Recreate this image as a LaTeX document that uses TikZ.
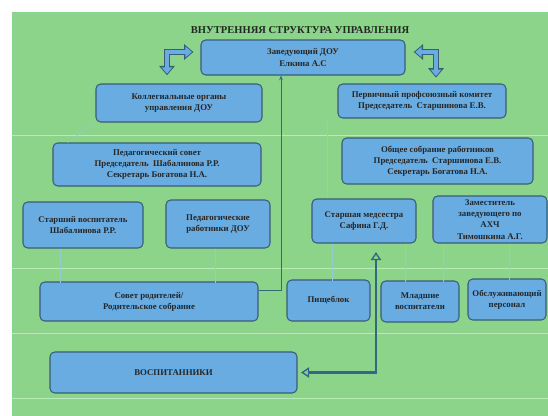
\documentclass[tikz,border=0pt]{standalone}
\usepackage{fontspec}
\setmainfont{Liberation Serif}
\usetikzlibrary{positioning, calc, arrows.meta}
\definecolor{slidegreen}{RGB}{140,212,138}
\definecolor{boxblue}{RGB}{104,172,226}
\definecolor{boxedge}{RGB}{58,92,118}
\definecolor{linkteal}{RGB}{52,104,128}
\definecolor{faintcyan}{RGB}{150,200,215}

\begin{document}
\begin{tikzpicture}[x=0.03cm, y=-0.03cm,
    unit/.style={rectangle, rounded corners=4pt, draw=boxedge, line width=0.9pt, fill=boxblue, align=center, inner sep=1pt, text=black!85, font=\fontsize{7.5}{9.5}\selectfont\bfseries},
    bigarrow/.style={draw=boxedge, line width=5pt, {Triangle[width=13pt,length=8pt]}-{Triangle[width=13pt,length=8pt]},
        postaction={draw=boxblue, line width=3pt, {Triangle[width=9pt,length=5.5pt]}-{Triangle[width=9pt,length=5.5pt]}, shorten <=1.3pt, shorten >=1.3pt}},
    pupilarrow/.style={draw=linkteal, line width=1.8pt, {Triangle[open,width=9pt,length=7pt,line width=1.2pt]}-{Triangle[open,width=9pt,length=7pt,line width=1.2pt]}},
    mainlink/.style={draw=linkteal, line width=0.8pt, -{Stealth[length=4pt]}},
    faint/.style={draw=faintcyan, line width=0.5pt},
    gridline/.style={draw=white, opacity=0.45, line width=0.6pt}
]
    \useasboundingbox (0,0) rectangle (548,416);
    \fill[white] (0,0) rectangle (548,416);
    \fill[slidegreen] (12,12) rectangle (548,416);
    \foreach \gy in {135,268,333,398}
        \draw[gridline] (12,\gy) -- (548,\gy);

    \node[font=\fontsize{9}{11}\selectfont\bfseries, text=black!85] (title) at (300,30) {ВНУТРЕННЯЯ СТРУКТУРА УПРАВЛЕНИЯ};

    \node[unit, minimum width=6.12cm, minimum height=1.05cm] (head) at (303,57.5) {Заведующий ДОУ\\Елкина А.С};
    \node[unit, minimum width=4.98cm, minimum height=1.14cm] (koll) at (179,103) {Коллегиальные органы\\управления ДОУ};
    \node[unit, minimum width=5.04cm, minimum height=1.02cm] (prof) at (422,101) {Первичный профсоюзный комитет\\Председатель\ \ Старшинова Е.В.};
    \node[unit, minimum width=6.24cm, minimum height=1.29cm] (pedsov) at (157,164.5) {Педагогический совет\\Председатель\ \ Шабалинова Р.Р.\\Секретарь Богатова Н.А.};
    \node[unit, minimum width=5.73cm, minimum height=1.38cm] (obsh) at (437.5,161) {Общее собрание работников\\Председатель\ \ Старшинова Е.В.\\Секретарь Богатова Н.А.};
    \node[unit, minimum width=3.6cm, minimum height=1.38cm] (stvosp) at (83,225) {Старший воспитатель\\Шабалинова Р.Р.};
    \node[unit, minimum width=3.12cm, minimum height=1.44cm] (pedrab) at (218,224) {Педагогические\\работники ДОУ};
    \node[unit, minimum width=3.12cm, minimum height=1.32cm] (medsis) at (364,221) {Старшая медсестра\\Сафина Г.Д.};
    \node[unit, minimum width=3.42cm, minimum height=1.41cm] (zam) at (490,219.5) {Заместитель\\заведующего по\\АХЧ\\Тимошкина А.Г.};
    \node[unit, minimum width=6.54cm, minimum height=1.17cm] (sovet) at (149,301.5) {Совет родителей/\\Родительское собрание};
    \node[unit, minimum width=2.49cm, minimum height=1.23cm] (pish) at (328.5,300.5) {Пищеблок};
    \node[unit, minimum width=2.34cm, minimum height=1.23cm] (mlad) at (420,301.5) {Младшие\\воспитатели};
    \node[unit, minimum width=2.34cm, minimum height=1.23cm] (obsl) at (507,299.5) {Обслуживающий\\персонал};
    \node[unit, minimum width=7.41cm, minimum height=1.23cm] (vosp) at (173.5,372.5) {ВОСПИТАННИКИ};

    \coordinate (lbend) at (167,52);
    \coordinate (rbend) at (436,52);
    \coordinate (mainbend) at (281,290);
    \coordinate (upend) at (376,252);

    \draw[bigarrow] ([xshift=-6pt]head.west |- lbend) -- (lbend) -- ([yshift=7pt]koll.north -| lbend);
    \draw[bigarrow] ([xshift=7pt]head.east |- rbend) -- (rbend) -- ([yshift=5pt]prof.north -| rbend);
    \draw[mainlink] (sovet.east |- mainbend) -- (mainbend) -- (mainbend |- head.south);
    \draw[pupilarrow] ([xshift=3pt]vosp.east) -| (upend);

    \draw[faint] (koll.south west) -- ($(pedsov.north west)+(15,0)$);
    \draw[faint] ($(medsis.north)+(-37,0)$) -- ++(0,-77);
    \draw[faint] ($(stvosp.south)+(-23,0)$) -- ++(0,34);
    \draw[faint] ($(pedrab.south)+(-3,0)$) -- ++(0,34);
    \draw[faint] ($(medsis.south)+(-32,0)$) -- ++(0,37);
    \draw[faint] ($(medsis.south)+(41,0)$) -- ++(0,38);
    \draw[faint] ($(zam.south)+(-47,0)$) -- ++(0,38);
    \draw[faint] ($(zam.south)+(19,0)$) -- ++(0,36);
\end{tikzpicture}
\end{document}
